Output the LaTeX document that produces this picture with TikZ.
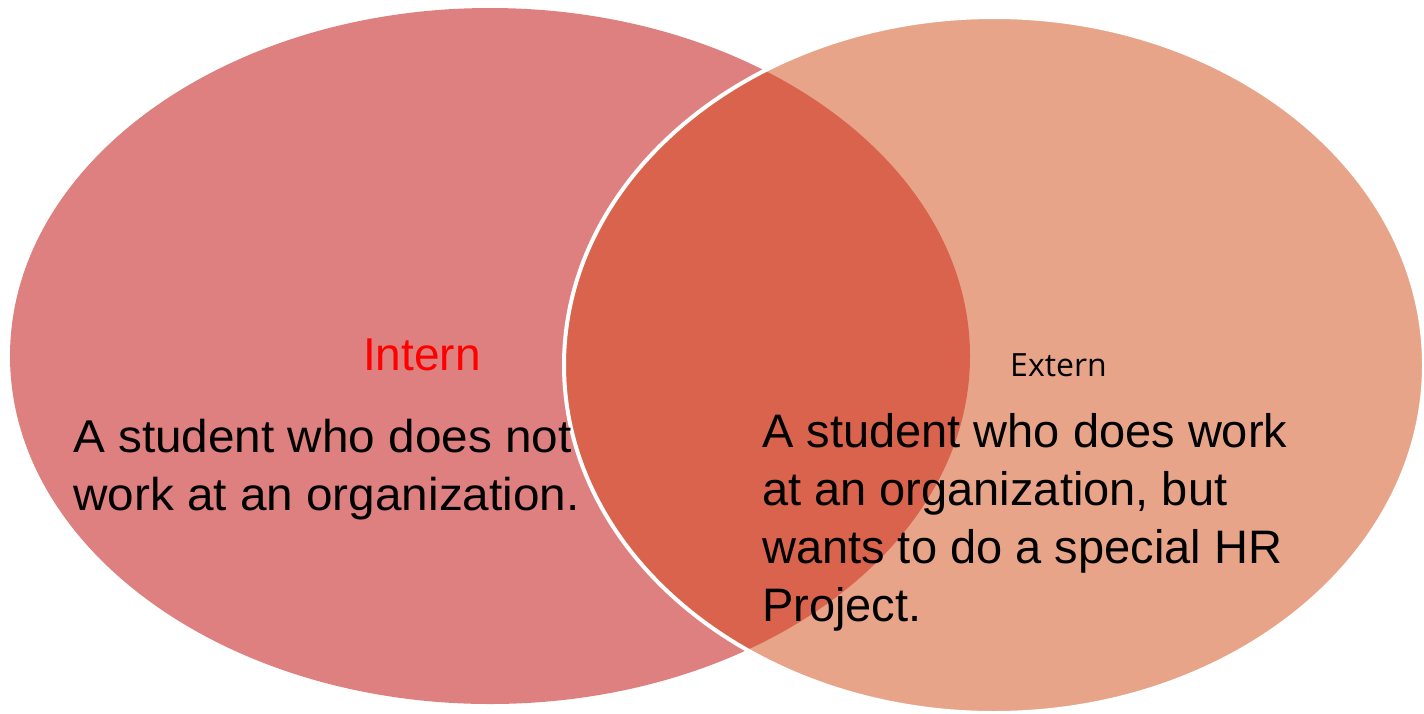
\documentclass[tikz,border=0pt]{standalone}
\usepackage{fontspec}
\setmainfont{Liberation Sans}
\newfontfamily\labelfont{Open Sans}
\definecolor{internfill}{RGB}{222,128,128}
\definecolor{externfill}{RGB}{232,164,137}
\definecolor{bothfill}{RGB}{217,99,76}
\begin{document}
\begin{tikzpicture}[x=1pt, y=-1pt, line join=round]
	\def\irx{480}\def\iry{348}\def\erx{430}\def\ery{348}
	\useasboundingbox (0,0) rectangle (1424,713);
	\coordinate (intern) at (490,356);
	\coordinate (extern) at (994,365);
	
	\fill[internfill] (intern) ellipse [x radius=\irx, y radius=\iry];
	\fill[externfill] (extern) ellipse [x radius=\erx, y radius=\ery];
	\begin{scope}
		\clip (intern) ellipse [x radius=\irx, y radius=\iry];
		\fill[bothfill] (extern) ellipse [x radius=\erx, y radius=\ery];
	\end{scope}
	\draw[white, line width=4] (extern) ellipse [x radius=\erx, y radius=\ery];
	
	% labels
	\node[anchor=base west, inner sep=0, text=red, font=\fontsize{46}{55}\selectfont] (internlabel) at (363,370) {Intern};
	\node[anchor=base west, inner sep=0, font=\labelfont\fontsize{32}{40}\selectfont] (externlabel) at (1010,376) {Extern};
	% texts (base anchor = last line)
	\node[anchor=base west, inner sep=0, align=left, xscale=1.037, transform shape, font=\fontsize{46}{58}\selectfont] (interntext) at (73,510) {A student who does not\\work at an organization.};
	\node[anchor=base west, inner sep=0, align=left, font=\fontsize{47}{57.8}\selectfont] (externtext) at (762,621) {A student who does work\\at an organization, but\\wants to do a special HR\\Project.};
\end{tikzpicture}
\end{document}
